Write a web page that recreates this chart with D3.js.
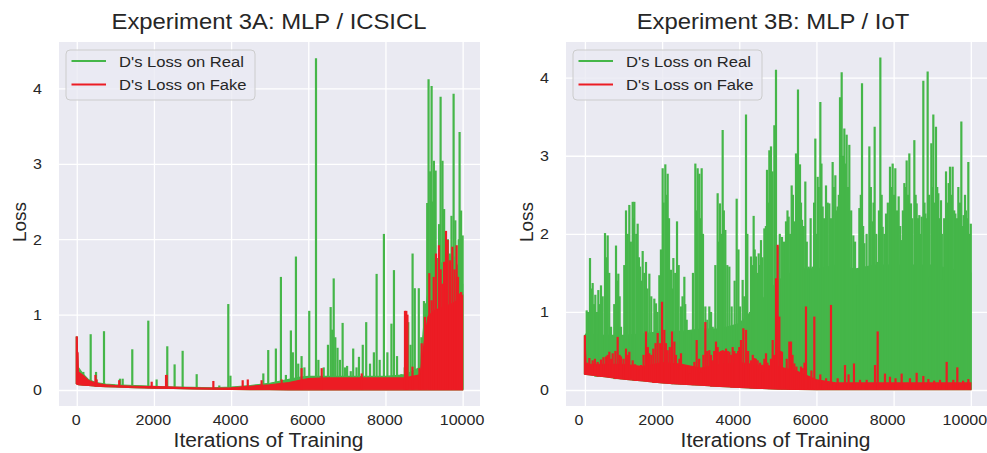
<!DOCTYPE html>
<html>
<head>
<meta charset="utf-8">
<script src="https://cdn.jsdelivr.net/npm/d3@7"></script>
<style>
  body { margin: 0; background: #fff; }
  text { font-family: "Liberation Sans", Arial, sans-serif; fill: #262626; }
</style>
</head>
<body>
<div id="chart"></div>
<script>
// ---- data ----
const xTicks = [0, 2000, 4000, 6000, 8000, 10000];
const yTicks = [0, 1, 2, 3, 4];
const seriesNames = ["D's Loss on Real", "D's Loss on Fake"];

// Experiment 3A: dense band (floor / top of the filled part) + single spikes [iteration, loss]
const envIterA = [0, 40, 150, 300, 500, 750, 1000, 1500, 2000, 2500, 3000, 3500, 4000, 4500, 5000, 5500, 5800, 6000, 6500, 7000, 7500, 8000, 8500, 8900, 9000, 9100, 9250, 9500, 9750, 9900, 10000];
const floorA = [0.08, 0.07, 0.065, 0.06, 0.05, 0.045, 0.04, 0.03, 0.025, 0.02, 0.015, 0.01, 0.008, 0.006, 0.004, 0.003, 0.003, 0.003, 0.003, 0.003, 0.003, 0.003, 0.003, 0.003, 0.003, 0.003, 0.003, 0.003, 0.003, 0.003, 0.003];
const realTopA = [0.70, 0.30, 0.22, 0.14, 0.10, 0.08, 0.07, 0.06, 0.05, 0.04, 0.035, 0.03, 0.04, 0.06, 0.09, 0.14, 0.17, 0.18, 0.18, 0.18, 0.18, 0.18, 0.2, 0.3, 0.9, 1.3, 1.6, 1.7, 1.8, 1.6, 1.4];
const fakeTopA = [0.71, 0.24, 0.2, 0.13, 0.09, 0.07, 0.06, 0.05, 0.045, 0.04, 0.03, 0.025, 0.03, 0.05, 0.07, 0.1, 0.13, 0.15, 0.16, 0.16, 0.16, 0.16, 0.16, 0.2, 0.62, 0.97, 1.05, 1.1, 1.15, 1.2, 1.25];
const realSpikesA = [[0,0.71],[170,0.24],[361,0.74],[500,0.24],[706,0.78],[1120,0.15],[1190,0.15],[1439,0.54],[1854,0.92],[2070,0.14],[2346,0.58],[2536,0.34],[2744,0.52],[3108,0.21],[3694,0.06],[3927,1.14],[3983,0.19],[4835,0.22],[4962,0.53],[5160,0.55],[5291,1.5],[5420,0.2],[5549,0.79],[5600,0.5],[5680,1.77],[5740,0.35],[5826,0.45],[5900,0.3],[6025,1.05],[6200,4.4],[6262,0.4],[6400,0.3],[6510,0.6],[6580,1.1],[6620,0.8],[6659,1.48],[6700,0.7],[6758,0.56],[6820,0.4],[6890,0.89],[6950,0.3],[7006,0.32],[7100,0.25],[7164,0.55],[7250,0.3],[7313,0.44],[7412,0.6],[7501,0.9],[7600,0.35],[7700,0.5],[7771,1.54],[7850,0.4],[7960,2.07],[8050,0.5],[8155,0.88],[8220,1.59],[8300,0.45],[8413,0.21],[8500,0.3],[8591,0.9],[8650,0.6],[8703,1.81],[8760,1.35],[8864,1.35],[8930,0.7],[8998,1.18],[9040,1.15],[9082,2.48],[9117,4.12],[9160,2.9],[9196,4.03],[9230,2.5],[9255,3.04],[9300,2.91],[9345,1.75],[9390,2.2],[9429,3.89],[9478,3.04],[9520,2.4],[9582,1.9],[9620,2.0],[9666,1.81],[9711,2.31],[9766,3.93],[9810,2.25],[9860,1.27],[9900,2.0],[9921,3.42],[9960,2.38],[10000,2.05]];
const fakeSpikesA = [[0,0.71],[20,0.5],[484,0.2],[516,0.14],[1100,0.13],[1942,0.11],[2314,0.2],[2330,0.2],[3540,0.12],[4300,0.13],[4432,0.14],[4790,0.13],[5310,0.14],[5826,0.29],[6347,0.29],[7384,0.22],[8506,1.05],[8540,1.05],[8570,1.0],[8700,0.31],[8880,0.29],[8939,0.62],[9024,0.97],[9136,1.55],[9197,1.19],[9250,1.5],[9309,1.81],[9387,1.92],[9430,1.6],[9474,1.41],[9520,1.7],[9569,2.11],[9612,1.99],[9672,1.72],[9733,1.9],[9790,1.6],[9845,1.92],[9880,1.5],[9914,1.28],[9960,1.3]];

// Experiment 3B
const envIterB = [0, 30, 500, 1000, 1500, 2000, 2500, 3000, 3500, 4000, 4500, 5000, 5500, 6000, 6500, 7000, 7500, 8000, 8500, 9000, 9500, 10000];
const floorB = [0.2, 0.2, 0.17, 0.14, 0.115, 0.09, 0.075, 0.062, 0.045, 0.033, 0.022, 0.012, 0.008, 0.005, 0.004, 0.003, 0.003, 0.003, 0.003, 0.003, 0.003, 0.003];
const realTopB = [0.7, 0.72, 0.7, 0.7, 0.72, 0.75, 0.75, 0.78, 0.78, 0.85, 1.1, 1.4, 1.55, 1.55, 1.6, 1.55, 1.6, 1.6, 1.6, 1.6, 1.55, 1.5];
const fakeTopB = [0.7, 0.33, 0.33, 0.33, 0.3, 0.35, 0.33, 0.28, 0.33, 0.35, 0.32, 0.3, 0.24, 0.13, 0.09, 0.09, 0.09, 0.09, 0.09, 0.09, 0.09, 0.09];
const realSpikesB = [[0,0.7],[46,1.02],[80,1.0],[132,1.69],[170,1.3],[201,1.37],[240,1.1],[270,1.22],[310,1.0],[348,1.28],[380,1.1],[417,1.34],[460,1.2],[521,2.01],[550,1.7],[590,1.98],[630,1.5],[676,0.81],[760,1.1],[806,1.85],[840,1.4],[866,1.49],[900,1.2],[935,0.81],[1020,1.6],[1065,2.3],[1110,2.0],[1151,2.37],[1190,1.9],[1238,2.41],[1260,2.2],[1281,2.41],[1330,2.0],[1367,2.13],[1400,1.7],[1428,1.58],[1460,1.4],[1497,1.78],[1540,1.5],[1583,1.64],[1620,1.3],[1670,1.49],[1720,1.2],[1799,1.17],[1842,1.11],[1880,1.0],[1929,1.47],[1970,1.8],[2015,2.84],[2040,2.4],[2084,2.89],[2110,2.5],[2145,2.77],[2180,2.2],[2231,1.54],[2260,1.3],[2292,1.69],[2340,1.5],[2387,2.16],[2430,1.6],[2490,1.07],[2530,1.2],[2577,1.45],[2600,1.1],[2637,0.9],[2732,0.73],[2800,1.5],[2862,2.9],[2890,2.3],[2922,2.84],[2965,2.77],[2990,2.2],[3026,2.84],[3060,2.0],[3121,1.07],[3170,0.9],[3224,1.07],[3270,1.0],[3311,0.81],[3380,1.6],[3440,2.52],[3470,1.9],[3501,2.39],[3530,2.0],[3570,3.33],[3600,2.3],[3639,2.05],[3690,1.6],[3743,1.58],[3803,1.07],[3880,1.4],[3933,2.45],[3980,1.8],[4019,1.07],[4088,1.41],[4130,1.2],[4175,3.53],[4210,2.0],[4244,0.94],[4280,1.0],[4304,1.71],[4340,1.6],[4373,2.23],[4400,1.8],[4434,1.71],[4470,1.5],[4503,1.75],[4530,1.6],[4563,1.92],[4600,1.7],[4650,2.07],[4690,2.1],[4719,2.82],[4750,2.4],[4779,3.07],[4822,3.12],[4860,2.8],[4909,3.39],[4930,3.0],[4952,4.1],[4995,1.84],[5050,2.0],[5107,1.96],[5160,1.9],[5211,2.16],[5250,2.3],[5280,2.22],[5320,2.0],[5358,2.62],[5390,2.5],[5427,2.16],[5470,3.03],[5500,2.6],[5522,3.85],[5574,2.89],[5600,2.4],[5626,2.18],[5670,2.1],[5712,2.67],[5750,1.9],[5799,1.58],[5850,2.2],[5902,1.58],[5940,2.4],[5971,3.22],[6000,2.0],[6032,2.73],[6060,2.6],[6101,3.69],[6130,2.9],[6161,2.35],[6200,2.2],[6248,2.62],[6290,2.4],[6334,2.39],[6380,2.2],[6420,2.92],[6450,2.6],[6490,2.75],[6520,2.3],[6550,2.35],[6580,2.5],[6611,3.75],[6654,4.07],[6690,3.0],[6723,3.35],[6750,2.9],[6783,3.27],[6820,2.6],[6852,3.14],[6900,2.3],[6956,1.98],[7000,1.9],[7068,1.34],[7112,2.33],[7150,2.5],[7181,3.93],[7210,2.1],[7241,1.88],[7300,2.0],[7371,3.12],[7410,2.6],[7457,2.16],[7480,2.4],[7509,3.37],[7550,2.0],[7587,1.64],[7620,2.3],[7656,4.26],[7690,2.5],[7716,2.09],[7760,2.0],[7803,2.26],[7850,2.4],[7906,2.86],[7940,2.6],[7975,2.9],[8010,2.5],[8044,2.84],[8090,2.3],[8131,2.48],[8170,2.1],[8209,1.92],[8240,2.3],[8278,2.65],[8310,2.6],[8338,2.94],[8370,2.5],[8407,3.03],[8450,2.39],[8480,2.2],[8537,3.2],[8570,2.5],[8597,2.39],[8630,2.2],[8666,2.24],[8700,2.0],[8727,2.22],[8770,3.96],[8800,2.4],[8822,2.26],[8850,2.2],[8882,4.08],[8920,2.5],[8943,1.45],[8977,3.16],[9000,2.6],[9029,3.53],[9060,2.4],[9098,3.37],[9130,2.6],[9159,2.52],[9190,2.2],[9228,2.43],[9250,2.0],[9271,1.41],[9310,2.2],[9358,2.8],[9390,2.4],[9426,2.65],[9461,2.86],[9500,2.5],[9530,2.86],[9570,2.3],[9599,2.26],[9640,2.2],[9677,2.6],[9720,2.4],[9755,3.44],[9790,2.1],[9815,2.24],[9850,2.5],[9876,2.3],[9900,2.2],[9936,2.92],[9970,2.0],[10000,2.13]];
const fakeSpikesB = [[0,0.7],[60,0.35],[115,0.41],[201,0.38],[260,0.4],[330,0.36],[417,0.39],[480,0.42],[547,0.43],[590,0.45],[633,0.49],[680,0.4],[720,0.47],[790,0.5],[849,0.68],[900,0.45],[935,0.43],[1000,0.4],[1065,0.53],[1110,0.45],[1151,0.49],[1238,0.38],[1300,0.33],[1367,0.26],[1454,0.32],[1520,0.45],[1583,0.75],[1630,0.55],[1670,0.47],[1720,0.45],[1773,0.53],[1830,0.6],[1886,0.73],[1950,0.6],[1998,1.13],[2058,0.77],[2100,0.6],[2145,0.51],[2200,0.55],[2257,0.75],[2318,0.62],[2360,0.45],[2404,0.34],[2450,0.4],[2490,0.47],[2577,0.32],[2640,0.3],[2706,0.21],[2780,0.3],[2836,0.36],[2896,0.64],[2960,0.4],[3009,0.23],[3070,0.45],[3121,0.87],[3170,0.5],[3224,0.51],[3270,0.45],[3311,0.38],[3350,0.5],[3397,0.62],[3440,0.55],[3484,0.49],[3530,0.5],[3570,0.51],[3610,0.5],[3656,0.53],[3700,0.5],[3743,0.49],[3790,0.45],[3829,0.55],[3870,0.5],[3916,0.47],[3970,0.5],[4000,0.55],[4045,0.64],[4106,0.79],[4175,0.77],[4230,0.5],[4304,0.38],[4350,0.45],[4390,0.41],[4430,0.4],[4477,0.38],[4540,0.35],[4606,0.23],[4650,0.4],[4693,0.47],[4730,0.35],[4779,0.26],[4820,0.4],[4866,0.64],[4900,0.45],[4952,1.43],[4995,1.86],[5038,0.94],[5070,0.5],[5107,0.49],[5168,0.26],[5230,0.4],[5297,0.62],[5341,0.62],[5380,0.45],[5427,0.34],[5480,0.3],[5557,0.21],[5600,0.3],[5643,0.28],[5690,0.35],[5729,1.07],[5816,0.17],[5870,0.25],[5945,0.94],[6032,0.13],[6100,0.2],[6161,0.09],[6250,0.15],[6377,1.09],[6464,0.09],[6550,0.15],[6740,0.32],[6833,0.2],[6973,0.34],[7129,0.13],[7302,0.13],[7518,0.32],[7587,0.75],[7776,0.21],[7906,0.17],[8050,0.15],[8208,0.21],[8424,0.15],[8597,0.22],[8770,0.18],[8900,0.14],[9050,0.12],[9202,0.13],[9375,0.36],[9547,0.13],[9651,0.29],[9800,0.12],[9936,0.14]];

// ---- layout ----
const W = 987, H = 453;
const plotTop = 42, plotBottom = 406;
const green = "#45b649", red = "#ec1c24";
const sx = 1.07; // glyphs in the picture are a bit wider than tall

const svg = d3.select("#chart").append("svg")
  .attr("width", W).attr("height", H)
  .style("background", "#fff");

const panels = [
  { title: "Experiment 3A: MLP / ICSICL", left: 59, right: 480, titleX: 269, xLabelShift: -1, xDomain: [-460, 10450], yDomain: [-0.212, 4.615],
    env: envIterA, floor: floorA, realTop: realTopA, fakeTop: fakeTopA, realSpikes: realSpikesA, fakeSpikes: fakeSpikesA },
  { title: "Experiment 3B: MLP / IoT", left: 566, right: 987, titleX: 773, xLabelShift: -6, xDomain: [-490, 10420], yDomain: [-0.205, 4.457],
    env: envIterB, floor: floorB, realTop: realTopB, fakeTop: fakeTopB, realSpikes: realSpikesB, fakeSpikes: fakeSpikesB }
];

panels.forEach(p => {
  const x = d3.scaleLinear().domain(p.xDomain).range([p.left, p.right]);
  const y = d3.scaleLinear().domain(p.yDomain).range([plotBottom, plotTop]);
  const w = p.right - p.left, h = plotBottom - plotTop;

  svg.append("rect")
    .attr("x", p.left).attr("y", plotTop).attr("width", w).attr("height", h)
    .attr("fill", "#eaeaf2");

  // axes + white grid
  const xaxis = svg.append("g")
    .attr("transform", `translate(0,${plotBottom})`)
    .call(d3.axisBottom(x).tickValues(xTicks).tickFormat(d3.format("d")).tickSize(-h).tickPadding(8));
  const yaxis = svg.append("g")
    .attr("transform", `translate(${p.left},0)`)
    .call(d3.axisLeft(y).tickValues(yTicks).tickFormat(d3.format("d")).tickSize(-w).tickPadding(16));
  [xaxis, yaxis].forEach(a => {
    a.select(".domain").remove();
    a.selectAll(".tick line").attr("stroke", "#fff").attr("stroke-width", 1.3);
    a.selectAll(".tick text")
      .attr("fill", "#262626")
      .style("font-size", "15px")
      .style("font-family", '"Liberation Sans", Arial, sans-serif')
      .attr("transform", `scale(${sx},1)`);
  });
  xaxis.selectAll(".tick text").attr("x", p.xLabelShift);

  const clipId = "clip" + p.left;
  svg.append("clipPath").attr("id", clipId)
    .append("rect").attr("x", p.left).attr("y", plotTop).attr("width", w).attr("height", h);
  const plot = svg.append("g").attr("clip-path", `url(#${clipId})`);

  const nearest = d3.bisector(d => d).center;

  function drawSeries(topVals, spikes, color) {
    const area = d3.area()
      .x((d, i) => x(p.env[i]))
      .y0((d, i) => y(p.floor[i]))
      .y1(d => y(d));
    plot.append("path")
      .attr("d", area(topVals))
      .attr("fill", color)
      .attr("stroke", color)
      .attr("stroke-width", 1.2);

    plot.selectAll(null)
      .data(spikes)
      .join("line")
      .attr("x1", d => x(d[0]))
      .attr("x2", d => x(d[0]))
      .attr("y1", d => y(p.floor[nearest(p.env, d[0])]))
      .attr("y2", d => y(d[1]))
      .attr("stroke", color)
      .attr("stroke-width", 2.2);
  }

  drawSeries(p.realTop, p.realSpikes, green);
  drawSeries(p.fakeTop, p.fakeSpikes, red);

  // legend
  const lg = svg.append("g").attr("transform", `translate(${p.left + 7},50)`);
  lg.append("rect")
    .attr("width", 189).attr("height", 50).attr("rx", 4)
    .attr("fill", "#eaeaf2").attr("fill-opacity", 0.8)
    .attr("stroke", "#cccccc").attr("stroke-width", 1);
  seriesNames.forEach((name, i) => {
    const ly = 11 + i * 23.6;
    lg.append("line")
      .attr("x1", 5.5).attr("x2", 40).attr("y1", ly).attr("y2", ly)
      .attr("stroke", i === 0 ? green : red).attr("stroke-width", 2);
    lg.append("text")
      .attr("transform", `translate(53,${ly + 5.5}) scale(${sx},1)`)
      .style("font-size", "15.5px")
      .text(name);
  });

  // titles and axis labels
  svg.append("text")
    .attr("transform", `translate(${p.titleX},29) scale(${sx},1)`)
    .attr("text-anchor", "middle")
    .style("font-size", "22.3px")
    .text(p.title);

  svg.append("text")
    .attr("transform", `translate(${(p.left + p.right) / 2 - 1},447) scale(${sx},1)`)
    .attr("text-anchor", "middle")
    .style("font-size", "19.6px")
    .text("Iterations of Training");

  svg.append("text")
    .attr("transform", `translate(${p.left - 33},222) rotate(-90)`)
    .attr("text-anchor", "middle")
    .style("font-size", "19px")
    .text("Loss");
});
</script>
</body>
</html>
